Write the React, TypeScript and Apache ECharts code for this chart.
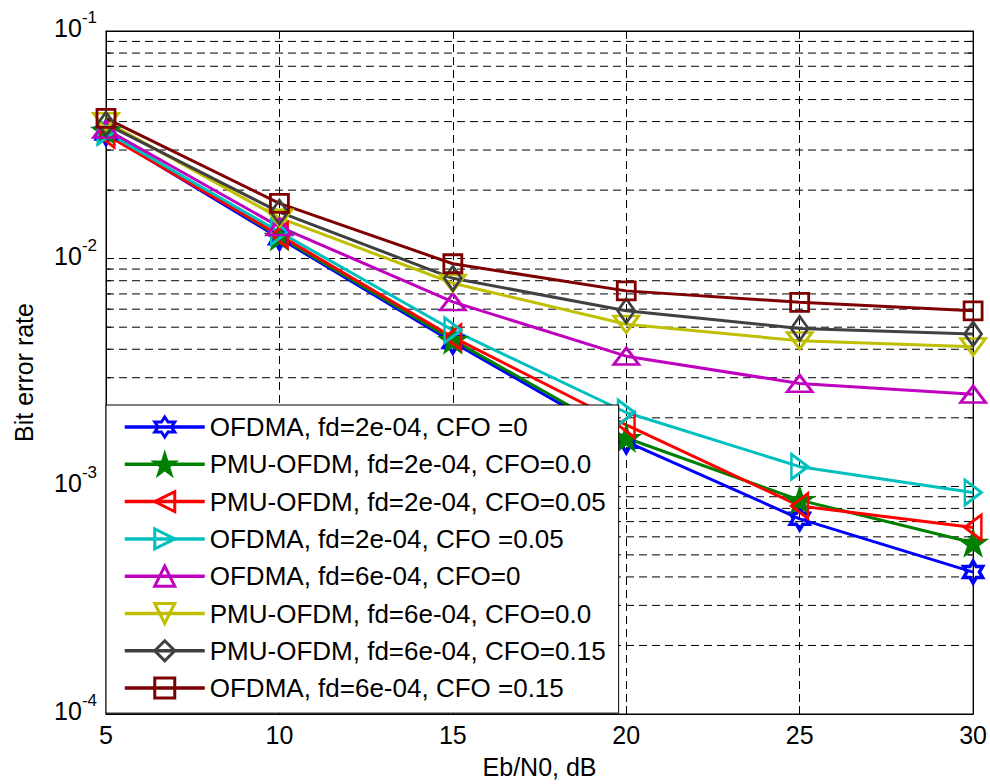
import React, { useEffect, useRef } from "react";
import * as echarts from "echarts";

const snr = [5, 10, 15, 20, 25, 30];
const xTicks = [5, 10, 15, 20, 25, 30];

const ofdma2e4Cfo0 = [0.0355, 0.0123, 0.0043, 0.00157, 0.00072, 0.00042];
const pmu2e4Cfo0 = [0.0365, 0.0125, 0.0044, 0.00163, 0.00087, 0.000565];
const pmu2e4Cfo005 = [0.035, 0.0127, 0.00452, 0.00186, 0.00082, 0.00066];
const ofdma2e4Cfo005 = [0.036, 0.0131, 0.00485, 0.00211, 0.00122, 0.00094];
const ofdma6e4Cfo0 = [0.037, 0.0138, 0.00646, 0.00373, 0.00283, 0.00254];
const pmu6e4Cfo0 = [0.04, 0.0151, 0.0078, 0.00515, 0.00436, 0.0041];
const pmu6e4Cfo015 = [0.039, 0.016, 0.0082, 0.0059, 0.00494, 0.00467];
const ofdma6e4Cfo015 = [0.0413, 0.0175, 0.0095, 0.00722, 0.00643, 0.0059];

const seriesNames = [
  "OFDMA, fd=2e-04, CFO =0",
  "PMU-OFDM, fd=2e-04, CFO=0.0",
  "PMU-OFDM, fd=2e-04, CFO=0.05",
  "OFDMA, fd=2e-04, CFO =0.05",
  "OFDMA, fd=6e-04, CFO=0",
  "PMU-OFDM, fd=6e-04, CFO=0.0",
  "PMU-OFDM, fd=6e-04, CFO=0.15",
  "OFDMA, fd=6e-04, CFO =0.15",
];
const seriesValues = [
  ofdma2e4Cfo0,
  pmu2e4Cfo0,
  pmu2e4Cfo005,
  ofdma2e4Cfo005,
  ofdma6e4Cfo0,
  pmu6e4Cfo0,
  pmu6e4Cfo015,
  ofdma6e4Cfo015,
];
const seriesColors = [
  "#0000FF",
  "#008000",
  "#FF0000",
  "#00BFBF",
  "#BF00BF",
  "#BFBF00",
  "#404040",
  "#7F0000",
];

const yMin = 1e-4;
const yMax = 1e-1;
const minorY = [
  2e-4, 3e-4, 4e-4, 5e-4, 6e-4, 7e-4, 8e-4, 9e-4,
  2e-3, 3e-3, 4e-3, 5e-3, 6e-3, 7e-3, 8e-3, 9e-3,
  2e-2, 3e-2, 4e-2, 5e-2, 6e-2, 7e-2, 8e-2, 9e-2,
];

const HEX =
  "path://M0,-100L28.87,-50L86.6,-50L57.7,0L86.6,50L28.87,50L0,100L-28.87,50L-86.6,50L-57.7,0L-86.6,-50L-28.87,-50Z";
const STAR =
  "path://M0,-100L22.45,-30.9L95.1,-30.9L36.3,11.8L58.8,80.9L0,38.2L-58.8,80.9L-36.3,11.8L-95.1,-30.9L-22.45,-30.9Z";
const TRI_LEFT = "path://M0,50L87,0L87,100Z";
const TRI_RIGHT = "path://M87,50L0,0L0,100Z";
const TRI_UP = "path://M50,0L100,87L0,87Z";
const TRI_DOWN = "path://M50,87L0,0L100,0Z";

const markers: any[] = [
  { symbol: HEX, size: 22, filled: false, bw: 3.5 },
  { symbol: STAR, size: 26, filled: true, bw: 2 },
  { symbol: TRI_LEFT, size: [19, 25], filled: false, bw: 2.8 },
  { symbol: TRI_RIGHT, size: [19, 25], filled: false, bw: 2.8 },
  { symbol: TRI_UP, size: [25, 19], filled: false, bw: 2.8 },
  { symbol: TRI_DOWN, size: [25, 19], filled: false, bw: 2.8 },
  { symbol: "diamond", size: [17, 24], filled: false, bw: 2.8 },
  { symbol: "rect", size: 18, filled: false, bw: 2.8 },
];

const FONT = "Liberation Sans, Arial, Helvetica, sans-serif";

export default function App() {
  const ref = useRef<HTMLDivElement>(null);

  useEffect(() => {
    if (!ref.current) return;
    const chart = echarts.init(ref.current, undefined, { renderer: "svg" });

    const lineSeries = seriesNames.map((name, i) => ({
      name,
      type: "line",
      data: snr.map((x, j) => [x, seriesValues[i][j]]),
      color: seriesColors[i],
      symbol: markers[i].symbol,
      symbolSize: markers[i].size,
      symbolKeepAspect: true,
      showAllSymbol: true,
      lineStyle: { color: seriesColors[i], width: 3 },
      itemStyle: {
        color: markers[i].filled ? seriesColors[i] : "rgba(255,255,255,0)",
        borderColor: seriesColors[i],
        borderWidth: markers[i].bw,
      },
      emphasis: { disabled: true },
      z: 3,
    }));

    const minorSeries = {
      type: "custom",
      silent: true,
      z: 1,
      data: minorY.map((v) => [xTicks[0], v]),
      renderItem: (params: any, api: any) => {
        const v = api.value(1);
        const p1 = api.coord([xTicks[0], v]);
        const p2 = api.coord([xTicks[xTicks.length - 1], v]);
        return {
          type: "group",
          children: [
            {
              type: "line",
              shape: { x1: p1[0], y1: p1[1], x2: p2[0], y2: p2[1] },
              style: { stroke: "#000", lineWidth: 1, lineDash: [8, 5] },
            },
            {
              type: "line",
              shape: { x1: p1[0], y1: p1[1], x2: p1[0] + 5, y2: p1[1] },
              style: { stroke: "#000", lineWidth: 1 },
            },
            {
              type: "line",
              shape: { x1: p2[0] - 5, y1: p2[1], x2: p2[0], y2: p2[1] },
              style: { stroke: "#000", lineWidth: 1 },
            },
          ],
        };
      },
    };

    const axisLineStyle = { show: true, lineStyle: { color: "#000", width: 1 } };

    chart.setOption({
      animation: false,
      backgroundColor: "#fff",
      textStyle: { fontFamily: FONT },
      grid: {
        left: 106,
        top: 31,
        right: 16,
        bottom: 70,
        show: true,
        borderColor: "#000",
        borderWidth: 1,
        backgroundColor: "#fff",
      },
      legend: {
        orient: "vertical",
        left: 106,
        top: 405,
        padding: [8, 13, 11, 17],
        itemGap: 9.3,
        itemWidth: 80,
        itemHeight: 25,
        backgroundColor: "#fff",
        borderColor: "#000",
        borderWidth: 1,
        borderRadius: 0,
        selectedMode: false,
        lineStyle: { width: 3.5 },
        itemStyle: { borderWidth: 3 },
        textStyle: {
          fontFamily: FONT,
          fontSize: 26,
          color: "#000",
          lineHeight: 28,
        },
        data: seriesNames,
        z: 10,
      },
      xAxis: [
        {
          type: "value",
          min: xTicks[0],
          max: xTicks[xTicks.length - 1],
          interval: 5,
          name: "Eb/N0, dB",
          nameLocation: "middle",
          nameGap: 40,
          nameTextStyle: { fontFamily: FONT, fontSize: 25, color: "#000" },
          axisLine: axisLineStyle,
          axisTick: { show: true, inside: true, length: 8, lineStyle: { color: "#000" } },
          axisLabel: { fontFamily: FONT, fontSize: 25, color: "#000", margin: 8 },
          splitLine: {
            show: true,
            lineStyle: { color: "#000", width: 1, type: [8, 5] },
          },
        },
        {
          type: "value",
          position: "top",
          min: xTicks[0],
          max: xTicks[xTicks.length - 1],
          interval: 5,
          axisLine: axisLineStyle,
          axisTick: { show: true, inside: true, length: 8, lineStyle: { color: "#000" } },
          axisLabel: { show: false },
          splitLine: { show: false },
        },
      ],
      yAxis: [
        {
          type: "log",
          logBase: 10,
          min: yMin,
          max: yMax,
          name: "Bit error rate",
          nameLocation: "middle",
          nameGap: 70,
          nameTextStyle: { fontFamily: FONT, fontSize: 25, color: "#000" },
          axisLine: axisLineStyle,
          axisTick: { show: true, inside: true, length: 8, lineStyle: { color: "#000" } },
          axisLabel: {
            margin: 9,
            formatter: (v: number) => `{b|10}{s|${Math.round(Math.log10(v))}}`,
            rich: {
              b: {
                fontFamily: FONT,
                fontSize: 25,
                color: "#000",
                lineHeight: 38,
                padding: [0, 0, 6, 0],
              },
              s: {
                fontFamily: FONT,
                fontSize: 17,
                color: "#000",
                lineHeight: 17,
                padding: [0, 0, 27, 0],
              },
            },
          },
          splitLine: {
            show: true,
            lineStyle: { color: "#000", width: 1, type: [8, 5] },
          },
        },
        {
          type: "log",
          logBase: 10,
          position: "right",
          min: yMin,
          max: yMax,
          axisLine: axisLineStyle,
          axisTick: { show: true, inside: true, length: 8, lineStyle: { color: "#000" } },
          axisLabel: { show: false },
          splitLine: { show: false },
        },
      ],
      series: [minorSeries, ...lineSeries],
    });

    return () => {
      chart.dispose();
    };
  }, []);

  return (
    <div
      ref={ref}
      style={{ position: "fixed", left: 0, top: 0, width: 990, height: 784 }}
    />
  );
}
